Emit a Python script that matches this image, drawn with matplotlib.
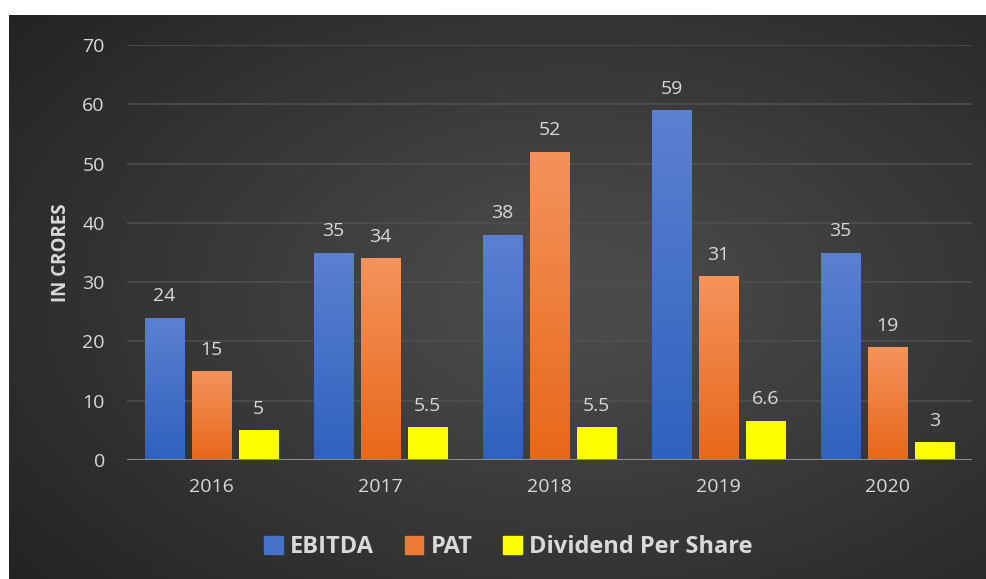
import numpy as np
import matplotlib

matplotlib.use('Agg')
import matplotlib.pyplot as plt
from matplotlib.colors import LinearSegmentedColormap
from matplotlib.patches import Patch

# ================ data ================
years = ['2016', '2017', '2018', '2019', '2020']
ebitda = [24, 35, 38, 59, 35]
pat = [15, 34, 52, 31, 19]
dividend = [5, 5.5, 5.5, 6.6, 3]
dividend_labels = ['5', '5.5', '5.5', '6.6', '3']

TXT = '#D9D9D9'
plt.rcParams['font.family'] = ['Open Sans', 'DejaVu Sans']

W, H = 987, 579
Figure = plt.figure(figsize=(W / 100, H / 100), dpi=100, facecolor='white')

# dark panel with soft radial gradient
bg = Figure.add_axes([9 / W, 0, 1 - 9 / W, 1 - 15 / H])
bg.set_axis_off()
yy, xx = np.mgrid[0:1:300j, 0:1:500j]
r = np.sqrt(((xx - 0.58) / 0.75) ** 2 + ((yy - 0.5) / 0.8) ** 2)
shade = np.clip(1 - r, 0, 1)
bg.imshow(shade, cmap=LinearSegmentedColormap.from_list('bg', ['#232323', '#4a4a4a']),
          extent=[0, 1, 0, 1], aspect='auto', vmin=0, vmax=0.9, interpolation='bilinear')
bg.set_xlim(0, 1)
bg.set_ylim(0, 1)

ax = Figure.add_axes([127 / W, 1 - 460 / H, 845 / W, 415 / H])
ax.set_facecolor('none')
for s in ax.spines.values():
    s.set_visible(False)
ax.axhline(0, color='#8C8C8C', lw=2.2, zorder=3)
ax.set_yticks(range(0, 80, 10))
ax.grid(axis='y', color='#505050', lw=1.1, zorder=0)
ax.tick_params(length=0, colors=TXT, labelsize=14, pad=16)
ax.tick_params(axis='x', pad=13)
x = np.arange(len(years))
ax.set_xticks(x)
ax.set_xticklabels(years)

bw = 0.232
off = 0.278
series = [
    (ebitda, [str(v) for v in ebitda], ['#5B80D0', '#2F62BE']),
    (pat, [str(v) for v in pat], ['#F4935C', '#E8681A']),
    (dividend, dividend_labels, ['#FFFF00', '#FFFF00']),
]
for i, (vals, labs, cols) in enumerate(series):
    pos = x + (i - 1) * off
    bars = ax.bar(pos, vals, width=bw, color=cols[1], zorder=2,
                  edgecolor='#8a8a00' if i == 2 else 'none', lw=0.6)
    cmap = LinearSegmentedColormap.from_list('g%d' % i, [cols[1], cols[0]])
    for b, lab in zip(bars, labs):
        x0, h = b.get_x(), b.get_height()
        im = ax.imshow(np.linspace(0, 1, 100).reshape(-1, 1)[::-1], cmap=cmap,
                       extent=[x0, x0 + bw, 0, h], aspect='auto', zorder=2.5)
        im.set_clip_path(b)
        ax.text(b.get_x() + bw / 2, h + 2.1, lab, ha='center', va='bottom',
                color=TXT, fontsize=14, zorder=4)
ax.set_xlim(-0.5, 4.5)
ax.set_ylim(0, 70)
ax.set_ylabel('IN CRORES', color=TXT, fontsize=13.5, fontweight='bold', labelpad=8)

handles = [Patch(color='#4672C8'), Patch(color='#EE7B35'), Patch(color='#FFFF00')]
leg = Figure.legend(handles, ['EBITDA', 'PAT', 'Dividend Per Share'], loc='center',
                    bbox_to_anchor=(0.515, 1 - 547 / H), ncol=3, frameon=False,
                    prop={'size': 17, 'weight': 'bold'}, handlelength=0.8, handleheight=0.8,
                    handletextpad=0.3, columnspacing=1.3)
for t in leg.get_texts():
    t.set_color(TXT)

Figure.savefig('out.png', dpi=100, facecolor='white')
